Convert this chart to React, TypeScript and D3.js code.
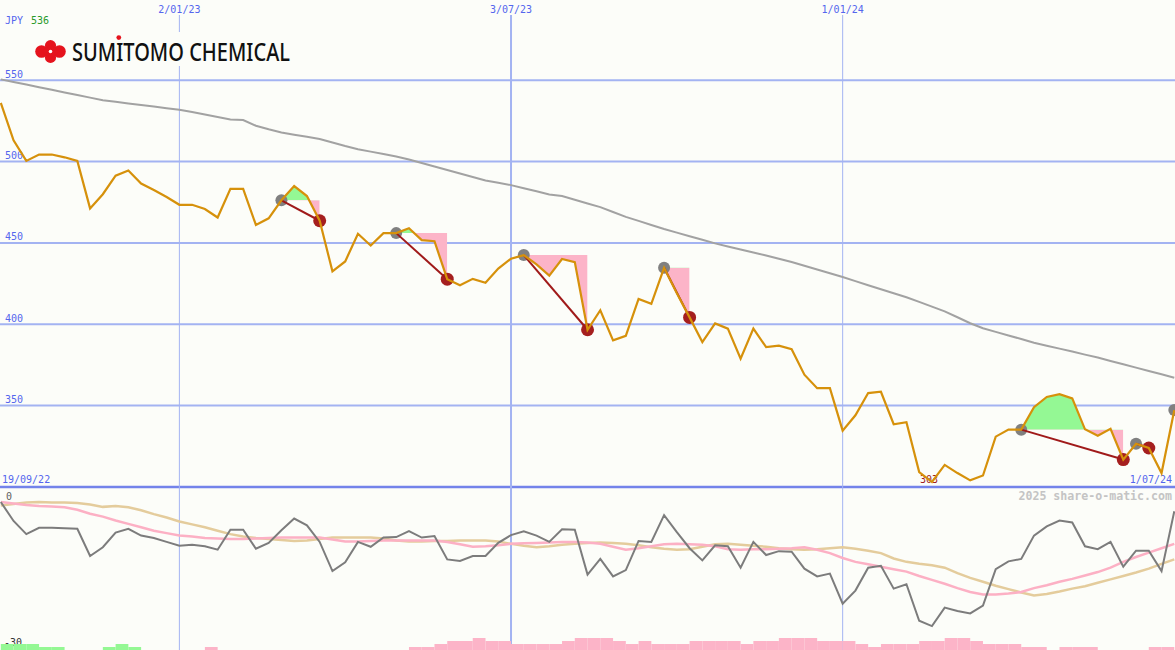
import React from 'react';
import * as d3 from 'd3';

// ---------- data ----------
const firstWeek = Date.UTC(2022, 8, 26);
const lastWeek = Date.UTC(2024, 6, 1);

const price = [
  536, 513.0, 500.4, 504.3, 504.3, 502.6, 500.4, 471.2, 479.9, 491.3,
  494.5, 486.5, 482.5, 478.2, 473.4, 473.4, 470.8, 465.6, 483.2, 483.2,
  461.0, 465.1, 476.2, 484.9, 478.8, 463.6, 432.5, 438.6, 455.6, 448.4,
  456.0, 456.0, 459.0, 451.7, 451.0, 427.7, 424.0, 427.9, 425.5, 434.2,
  440.3, 442.5, 436.8, 429.9, 440.1, 438.2, 396.6, 408.6, 390.1, 392.9,
  415.5, 412.5, 434.7, 419.0, 404.2, 389.0, 400.5, 397.3, 378.8, 397.3,
  385.9, 386.8, 384.6, 369.0, 360.7, 360.7, 334.6, 344.0, 357.7, 358.5,
  338.5, 339.8, 309.1, 303.0, 313.5, 308.5, 304.0, 307.0, 330.9, 335.2,
  335.2, 349.0, 355.3, 357.0, 354.4, 335.4, 331.5, 335.7, 316.8, 326.5,
  323.9, 308.5, 347.2,
];

const longMA = [
  550.5, 548.9, 547.3, 545.7, 544.1, 542.5, 540.9, 539.3, 537.7, 536.7,
  535.7, 534.8, 533.8, 532.8, 531.8, 530.4, 528.9, 527.4, 525.9, 525.5,
  522.0, 519.8, 517.9, 516.5, 515.2, 513.8, 511.7, 509.5, 507.6, 506.1,
  504.6, 503.1, 501.2, 499.1, 496.9, 494.8, 492.6, 490.5, 488.3, 486.9,
  485.5, 483.6, 481.7, 479.8, 478.8, 476.5, 474.2, 472.0, 469.0, 466.0,
  463.5, 461.0, 458.5, 456.3, 454.1, 451.9, 449.7, 447.8, 445.9, 444.1,
  442.2, 440.3, 438.2, 435.9, 433.6, 431.3, 429.0, 426.5, 424.0, 421.5,
  419.0, 416.6, 413.7, 410.8, 407.9, 404.3, 400.6, 397.5, 395.3, 393.1,
  390.9, 388.6, 386.8, 385.0, 383.2, 381.3, 379.5, 377.4, 375.4, 373.3,
  371.2, 369.2, 367.1,
];

const relGray = [
  0.0, -3.9, -6.6, -5.3, -5.3, -5.4, -5.5, -11.1, -9.3, -6.3,
  -5.5, -6.9, -7.4, -8.2, -9.0, -8.8, -9.1, -9.8, -5.7, -5.7,
  -9.6, -8.4, -5.8, -3.4, -4.8, -8.2, -14.2, -12.4, -8.2, -9.2,
  -7.3, -7.2, -6.0, -7.3, -7.0, -11.8, -12.1, -11.1, -11.1, -8.4,
  -6.8, -6.0, -6.9, -8.2, -5.6, -5.7, -14.9, -11.7, -15.3, -14.0,
  -8.0, -8.2, -2.7, -6.2, -9.5, -12.0, -8.9, -9.1, -13.5, -8.2,
  -10.9, -10.1, -10.2, -13.7, -15.3, -14.7, -20.9, -18.2, -13.5, -13.1,
  -17.8, -16.9, -24.4, -25.5, -21.7, -22.4, -22.9, -21.3, -13.8, -12.2,
  -11.7, -6.9, -5.0, -3.8, -4.2, -9.1, -9.7, -8.2, -13.3, -10.0,
  -10.0, -14.2, -1.9,
];

const relPink = [
  0.0, -0.3, -0.6, -0.8, -0.9, -1.1, -1.6, -2.4, -3.0, -3.8,
  -4.5, -5.2, -5.9, -6.4, -6.9, -7.1, -7.4, -7.5, -7.6, -7.6,
  -7.5, -7.4, -7.3, -7.3, -7.3, -7.3, -7.7, -8.1, -8.1, -8.0,
  -7.9, -7.9, -7.9, -7.9, -7.9, -8.2, -8.7, -9.2, -9.1, -8.9,
  -8.6, -8.5, -8.4, -8.3, -8.2, -8.2, -8.3, -8.6, -9.2, -9.8,
  -9.5, -9.1, -8.7, -8.6, -8.7, -8.8, -9.1, -9.7, -9.8, -9.7,
  -9.7, -9.6, -9.5, -9.3, -9.8, -10.5, -11.5, -12.3, -12.8, -13.3,
  -13.8, -14.3, -15.2, -16.0, -16.8, -17.7, -18.5, -19.0, -19.0, -18.8,
  -18.5, -17.7, -17.1, -16.4, -15.8, -15.1, -14.4, -13.5, -12.3, -11.3,
  -10.4, -9.5, -8.6,
];

const relTan = [
  -0.7, -0.4, -0.1, 0.0, -0.1, -0.1, -0.2, -0.5, -1.0, -0.8,
  -1.1, -1.7, -2.5, -3.2, -4.0, -4.6, -5.2, -5.9, -6.6, -7.1,
  -7.4, -7.6, -7.8, -8.0, -7.9, -7.6, -7.3, -7.3, -7.3, -7.3,
  -7.5, -7.9, -8.1, -8.1, -8.0, -8.0, -7.9, -7.9, -7.9, -8.1,
  -8.6, -9.0, -9.3, -9.1, -8.8, -8.6, -8.4, -8.3, -8.4, -8.6,
  -8.9, -9.3, -9.6, -9.8, -9.7, -9.2, -8.7, -8.6, -8.8, -9.0,
  -9.2, -9.5, -9.7, -9.8, -9.7, -9.5, -9.3, -9.6, -10.0, -10.5,
  -11.6, -12.3, -12.7, -13.0, -13.5, -14.6, -15.6, -16.4, -17.2, -17.9,
  -18.6, -19.2, -18.9, -18.4, -17.8, -17.3, -16.6, -15.9, -15.2, -14.5,
  -13.7, -12.7, -11.8,
];

// strength bars: positive = green, negative = pink (levels)
const bars = [
  2, 2, 2, 1, 1, 0, 0, 0, 1, 2,
  1, 0, 0, 0, 0, 0, -1, 0, 0, 0,
  0, 0, 0, 0, 0, 0, 0, 0, 0, 0,
  0, 0, -1, -1, -2, -3, -3, -4, -3, -3,
  -2, -2, -2, -2, -3, -4, -4, -4, -3, -2,
  -3, -2, -2, -2, -3, -3, -3, -3, -2, -3,
  -3, -4, -4, -4, -3, -3, -3, -2, -1, -2,
  -2, -2, -3, -3, -4, -4, -3, -2, -2, -2,
  -1, -1, 0, -1, -1, -1, 0, 0, 0, 0,
  -1, -1,
];

// signal start / end week indexes
const signalStarts = [22, 31, 41, 52, 80, 89, 92];
const signalEnds = [25, 35, 46, 54, 88, 90, null];

const priceTicks = [550, 500, 450, 400, 350];
const dateTickLabels = ['2/01/23', '3/07/23', '1/01/24'];
const dateTickDates = [Date.UTC(2023, 0, 2), Date.UTC(2023, 6, 3), Date.UTC(2024, 0, 1)];
const dateTickWidths = [1, 2, 1];

const W = 1175;
const H = 650;
const BG = '#fcfdf9';
const GRID = '#a3b3f2';
const BLUE = '#5466ee';
const MONO = '"DejaVu Sans Mono", "Liberation Mono", monospace';

export default function App() {
  const weeks = price.map((_, i) => firstWeek + i * 7 * 86400000);
  const x = d3.scaleUtc().domain([firstWeek, lastWeek]).range([0.8, 1174.3]);
  const y = d3.scaleLinear().domain([300, 550]).range([486.9, 80.2]);
  const yo = d3.scaleLinear().domain([-30, 0]).range([648, 502]);
  const yb = d3.scaleLinear().domain([0, 4]).range([650, 638]);

  const xi = (i: number) => x(weeks[i]);

  const priceLine = d3.line<number>().x((_, i) => xi(i)).y((d) => y(d))(price) || '';
  const maLine = d3.line<number>().x((_, i) => xi(i)).y((d) => y(d))(longMA) || '';
  const oscLine = (arr: number[]) =>
    d3.line<number>().x((_, i) => xi(i)).y((d) => yo(d))(arr) || '';

  const signals = signalStarts.map((s, k) => ({ s, e: signalEnds[k] }));

  return (
    <svg
      width={W}
      height={H}
      style={{ position: 'absolute', left: 0, top: 0, display: 'block' }}
      xmlns="http://www.w3.org/2000/svg"
    >
      <rect x={0} y={0} width={W} height={H} fill={BG} />

      <defs>
        {signals.map(({ s, e }, k) => {
          if (e == null) return null;
          const yBase = y(price[s]);
          return (
            <React.Fragment key={k}>
              <clipPath id={`up${k}`}>
                <rect x={xi(s)} y={0} width={xi(e) - xi(s)} height={yBase} />
              </clipPath>
              <clipPath id={`dn${k}`}>
                <rect x={xi(s)} y={yBase} width={xi(e) - xi(s)} height={H - yBase} />
              </clipPath>
            </React.Fragment>
          );
        })}
      </defs>

      {/* horizontal grid */}
      {priceTicks.map((t) => (
        <line key={t} x1={0} x2={W} y1={y(t)} y2={y(t)} stroke={GRID} strokeWidth={2} />
      ))}
      <line x1={0} x2={W} y1={y(300)} y2={y(300)} stroke="#7383ea" strokeWidth={2.5} />

      {/* vertical date lines */}
      {dateTickDates.map((d, k) => (
        <line key={k} x1={x(d)} x2={x(d)} y1={15} y2={H} stroke={GRID} strokeWidth={dateTickWidths[k]} />
      ))}
      {dateTickDates.map((d, k) => (
        <text key={k} x={x(d)} y={13} textAnchor="middle" fontFamily={MONO} fontSize={10} fill={BLUE}>
          {dateTickLabels[k]}
        </text>
      ))}

      {/* header */}
      <text x={5} y={24} fontFamily={MONO} fontSize={10} fill={BLUE}>JPY</text>
      <text x={31} y={24} fontFamily={MONO} fontSize={10} fill="#2a9a2a">{price[0]}</text>

      {/* logo */}
      <rect x={30} y={32} width={266} height={34} fill={BG} />
      <g fill="#e5131d">
        <circle cx={41.5} cy={51.5} r={6.3} />
        <circle cx={59.5} cy={51.5} r={6.3} />
        <circle cx={50.5} cy={45.6} r={5.6} />
        <circle cx={50.5} cy={57.4} r={5.6} />
        <polygon points="41.5,51.5 50.5,44.5 59.5,51.5 50.5,58.5" />
      </g>
      <circle cx={50.5} cy={51.5} r={1.8} fill="#ffffff" />
      <text
        x={72}
        y={61}
        fontFamily='"Noto Sans", "Open Sans", sans-serif'
        fontWeight={500}
        fontSize={24.5}
        textLength={218}
        lengthAdjust="spacingAndGlyphs"
        fill="#111111"
      >
        SUMITOMO CHEMICAL
      </text>
      <circle cx={118.8} cy={37.6} r={2.4} fill="#e5131d" />

      {/* price tick labels */}
      {priceTicks.map((t) => (
        <text key={t} x={5} y={y(t) - 2.5} fontFamily={MONO} fontSize={10} fill={BLUE}>
          {t}
        </text>
      ))}

      {/* bottom labels of price panel */}
      <text x={2} y={483} fontFamily={MONO} fontSize={10} fill={BLUE}>19/09/22</text>
      <text x={1172} y={483} textAnchor="end" fontFamily={MONO} fontSize={10} fill={BLUE}>1/07/24</text>
      <text x={xi(73) - 12} y={483} fontFamily={MONO} fontSize={10} fill="#a01c1c">
        {Math.round(d3.min(price) as number)}
      </text>
      <text x={1172} y={500} textAnchor="end" fontFamily={MONO} fontSize={11.6} fontWeight="bold" fill="#c4c4c4">
        2025 share-o-matic.com
      </text>

      {/* long moving average */}
      <path d={maLine} fill="none" stroke="#a2a2a2" strokeWidth={2} />

      {/* signal fills */}
      {signals.map(({ s, e }, k) => {
        if (e == null) return null;
        const seg = d3.range(s, e + 1);
        const yBase = y(price[s]);
        const area = d3
          .area<number>()
          .x((i) => xi(i))
          .y0(yBase)
          .y1((i) => y(price[i]))(seg) || '';
        return (
          <g key={k}>
            <path d={area} fill="#94f894" clipPath={`url(#up${k})`} />
            <path d={area} fill="#fcb4c8" clipPath={`url(#dn${k})`} />
          </g>
        );
      })}

      {/* signal dots */}
      {signals.map(({ s, e }, k) => (
        <g key={k}>
          <circle cx={xi(s)} cy={y(price[s])} r={6} fill="#808080" />
          {e != null && <circle cx={xi(e)} cy={y(price[e])} r={6.5} fill="#a51f1f" />}
        </g>
      ))}
      {signals.map(({ s, e }, k) =>
        e == null ? null : (
          <line
            key={k}
            x1={xi(s)}
            y1={y(price[s])}
            x2={xi(e)}
            y2={y(price[e])}
            stroke="#a01a1a"
            strokeWidth={2}
          />
        )
      )}

      {/* price line */}
      <path d={priceLine} fill="none" stroke="#d6910b" strokeWidth={2.2} strokeLinejoin="miter" />

      {/* lower panel */}
      <text x={6} y={500} fontFamily={MONO} fontSize={10} fill="#606060">0</text>
      <text x={4} y={646} fontFamily={MONO} fontSize={10} fill="#333333">-30</text>

      {bars.map((b, i) =>
        b === 0 ? null : (
          <rect
            key={i}
            x={xi(i)}
            width={xi(i + 1) - xi(i)}
            y={yb(Math.abs(b))}
            height={yb(0) - yb(Math.abs(b))}
            fill={b > 0 ? '#94f894' : '#fcb4c8'}
          />
        )
      )}

      <path d={oscLine(relTan)} fill="none" stroke="#e4cc9c" strokeWidth={2.5} />
      <path d={oscLine(relPink)} fill="none" stroke="#fcb0c4" strokeWidth={2.5} />
      <path d={oscLine(relGray)} fill="none" stroke="#7c7c7c" strokeWidth={2} />
    </svg>
  );
}
